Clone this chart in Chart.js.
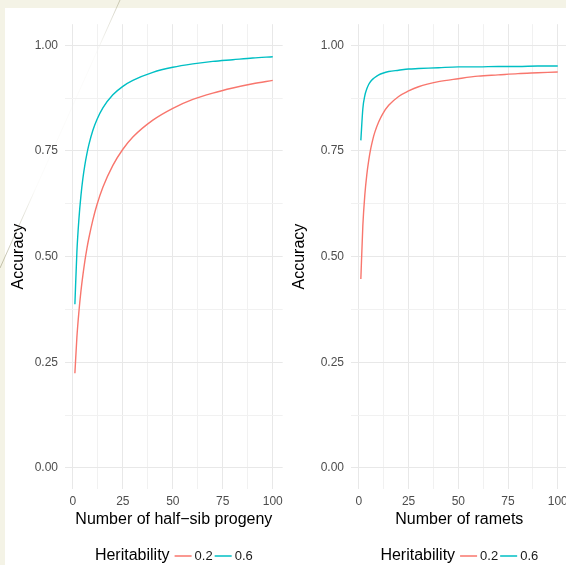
<!DOCTYPE html>
<html><head><meta charset="utf-8">
<script src="https://cdn.jsdelivr.net/npm/chart.js@4.4.1/dist/chart.umd.min.js"></script>
<style>
html,body{margin:0;padding:0;width:566px;height:565px;overflow:hidden;background:#f4f3e6;}
#panel{position:absolute;left:5px;top:8px;width:561px;height:557px;background:#ffffff;}
#deco{position:absolute;left:0;top:0;}
canvas{position:absolute;}
#c1{left:5px;top:10px;}
#c2{left:283px;top:10px;}
</style></head><body>
<div id="panel"></div>
<svg id="deco" width="566" height="565">
  <defs>
    <linearGradient id="fade" gradientUnits="userSpaceOnUse" x1="120" y1="0" x2="0" y2="268">
      <stop offset="0" stop-color="#a9a78a" stop-opacity="0.6"/>
      <stop offset="0.06" stop-color="#a9a78a" stop-opacity="0.35"/>
      <stop offset="0.2" stop-color="#a9a78a" stop-opacity="0.04"/>
      <stop offset="0.7" stop-color="#a9a78a" stop-opacity="0.04"/>
      <stop offset="0.86" stop-color="#a9a78a" stop-opacity="0.45"/>
      <stop offset="1" stop-color="#a9a78a" stop-opacity="0.7"/>
    </linearGradient>
  </defs>
  <line x1="120" y1="0" x2="0" y2="268" stroke="url(#fade)" stroke-width="1"/>
</svg>
<canvas id="c1" width="283" height="555"></canvas>
<canvas id="c2" width="290" height="555"></canvas>
<script>
// ---- data ----
const nValues   = [1,2,3,4,5,6,7,8,10,12,15,20,25,30,40,50,60,70,80,90,100];
const halfSib02 = [0.224,0.309,0.369,0.417,0.456,0.490,0.519,0.544,0.587,0.622,0.664,0.716,0.754,0.783,0.823,0.851,0.872,0.887,0.899,0.909,0.917];
const halfSib06 = [0.387,0.511,0.588,0.643,0.685,0.717,0.743,0.765,0.799,0.824,0.852,0.883,0.903,0.917,0.936,0.948,0.956,0.962,0.966,0.970,0.973];
const ramets02  = [0.447,0.573,0.646,0.694,0.729,0.756,0.777,0.794,0.819,0.838,0.858,0.879,0.892,0.902,0.914,0.921,0.927,0.930,0.933,0.935,0.937];
const ramets06  = [0.775,0.850,0.881,0.897,0.908,0.915,0.920,0.924,0.930,0.934,0.938,0.941,0.944,0.945,0.947,0.949,0.949,0.950,0.950,0.951,0.951];
const heritLabels = ['0.2','0.6'];
const legendTitle = 'Heritability';
const yTitle = 'Accuracy';
const xTitles = ['Number of half\u2212sib progeny','Number of ramets'];
const xGridTicks = [0,12.5,25,37.5,50,62.5,75,87.5,100];
const yGridTicks = [0,0.125,0.25,0.375,0.5,0.625,0.75,0.875,1];

const FONT = '"Liberation Sans", Arial, sans-serif';
const COLORS = ['#F8766D','#00BFC4'];

const isMajor = (v, step) => Math.abs(v/step - Math.round(v/step)) < 1e-6;

const legendPlugin = {
  id: 'inlineLegend',
  afterDraw(chart) {
    const ctx = chart.ctx, ca = chart.chartArea;
    const y = chart.height - 9;
    ctx.save();
    ctx.textBaseline = 'middle';
    ctx.font = '16px ' + FONT;
    const titleW = ctx.measureText(legendTitle).width;
    ctx.font = '13px ' + FONT;
    const items = chart.data.datasets.map(d => ({label: d.label, color: d.borderColor, w: ctx.measureText(d.label).width}));
    const sw = 17, g1 = 3, g2 = 2, gt = 5;
    const total = titleW + gt + items.reduce((a, it) => a + sw + g1 + it.w + g2, 0) - g2;
    let x = (ca.left + ca.right) / 2 - total / 2;
    ctx.fillStyle = '#000';
    ctx.textAlign = 'left';
    ctx.font = '16px ' + FONT;
    ctx.fillText(legendTitle, x, y);
    x += titleW + gt;
    ctx.font = '13px ' + FONT;
    items.forEach(it => {
      ctx.strokeStyle = it.color;
      ctx.lineWidth = 1.5;
      ctx.beginPath();
      ctx.moveTo(x, y);
      ctx.lineTo(x + sw, y);
      ctx.stroke();
      x += sw + g1;
      ctx.fillStyle = '#1a1a1a';
      ctx.fillText(it.label, x, y);
      x += it.w + g2;
    });
    ctx.restore();
  }
};

function makeChart(id, xTitle, s02, s06, yWidth, yTitlePad) {
  return new Chart(document.getElementById(id), {
    type: 'line',
    data: {
      datasets: [
        {label: heritLabels[0], data: nValues.map((n, i) => ({x: n, y: s02[i]})), borderColor: COLORS[0]},
        {label: heritLabels[1], data: nValues.map((n, i) => ({x: n, y: s06[i]})), borderColor: COLORS[1]}
      ]
    },
    options: {
      responsive: false,
      animation: false,
      devicePixelRatio: 1,
      layout: {padding: {left: 0, right: 5, top: 4.5, bottom: 30}},
      plugins: {legend: {display: false}, tooltip: {enabled: false}},
      elements: {
        point: {radius: 0},
        line: {borderWidth: 1.4, cubicInterpolationMode: 'monotone', fill: false, borderCapStyle: 'butt'}
      },
      scales: {
        x: {
          type: 'linear', min: -3.95, max: 104.95,
          afterBuildTicks: s => { s.ticks = xGridTicks.map(v => ({value: v})); },
          afterFit: s => { s.height = 46; },
          border: {display: false},
          grid: {
            drawTicks: false,
            color: c => isMajor(c.tick.value, 25) ? '#e8e8e8' : '#f1f1f1',
            lineWidth: 1
          },
          ticks: {
            padding: 5, autoSkip: false, maxRotation: 0,
            color: '#4d4d4d', font: {family: FONT, size: 12},
            callback: v => isMajor(v, 25) ? String(v) : ''
          },
          title: {display: true, text: xTitle, color: '#000', font: {family: FONT, size: 16}, padding: {top: 0, bottom: 6}}
        },
        y: {
          type: 'linear', min: -0.05, max: 1.05,
          afterBuildTicks: s => { s.ticks = yGridTicks.map(v => ({value: v})); },
          afterFit: s => { s.width = yWidth; },
          border: {display: false},
          grid: {
            drawTicks: false,
            color: c => isMajor(c.tick.value, 0.25) ? '#e8e8e8' : '#f1f1f1',
            lineWidth: 1
          },
          ticks: {
            padding: 7, autoSkip: false,
            color: '#4d4d4d', font: {family: FONT, size: 12},
            callback: v => isMajor(v, 0.25) ? v.toFixed(2) : ''
          },
          title: {display: true, text: yTitle, color: '#000', font: {family: FONT, size: 16}, padding: {top: yTitlePad, bottom: 0}}
        }
      }
    },
    plugins: [legendPlugin]
  });
}

makeChart('c1', xTitles[0], halfSib02, halfSib06, 60, 4.4);
makeChart('c2', xTitles[1], ramets02, ramets06, 68, 7.4);
</script>
</body></html>
